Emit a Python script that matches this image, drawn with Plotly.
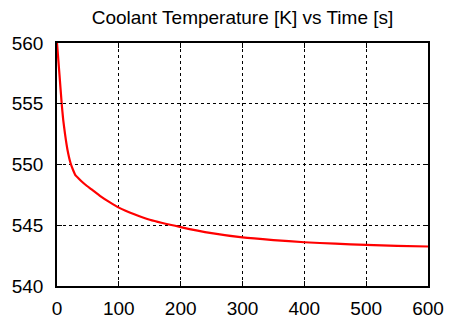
import plotly.graph_objects as go

time_s = [0, 2, 4, 7.6, 10, 13, 17, 22, 26, 30, 35, 40, 48, 56, 70, 85, 100, 125, 150, 200, 250, 300, 350, 400, 450, 500, 550, 600]
temp_k = [560.0, 558.7, 557.4, 555.0, 553.7, 552.5, 551.2, 550.1, 549.55, 549.1, 548.85, 548.6, 548.25, 547.95, 547.4, 546.9, 546.45, 545.9, 545.45, 544.85, 544.35, 544.0, 543.78, 543.6, 543.48, 543.38, 543.3, 543.25]

x_ticks = [0, 100, 200, 300, 400, 500, 600]
y_ticks = [540, 545, 550, 555, 560]
title_text = "Coolant Temperature [K] vs Time [s]"

fig = go.Figure()
fig.add_trace(go.Scatter(x=time_s, y=temp_k, mode="lines",
                         line=dict(color="#ff0000", width=2.2, shape="spline", smoothing=0.4),
                         showlegend=False, hoverinfo="skip"))

font = dict(family="Liberation Sans, Arial, sans-serif", size=19, color="#000000")
axis_common = dict(showline=True, linecolor="#000000", linewidth=1.5, mirror="ticks",
                   ticks="inside", ticklen=5, tickwidth=1.2, tickcolor="#000000",
                   showgrid=True, gridcolor="#000000", gridwidth=1, griddash="dot",
                   zeroline=False, tickfont=font)

# page body has an 8px margin, so the figure sits at (8, 8)
fig.update_layout(
    width=463, height=318,
    margin=dict(l=49, r=43, t=35, b=40, autoexpand=False),
    paper_bgcolor="#ffffff", plot_bgcolor="#ffffff",
    title=dict(text=title_text, x=(49 + 420) / 2 / 463, xanchor="center",
               y=1 - 9 / 318, yanchor="middle", font=font),
    xaxis=dict(range=[0, 600], tickvals=x_ticks, ticklabelstandoff=4, **axis_common),
    yaxis=dict(range=[540, 560], tickvals=y_ticks, ticklabelstandoff=8, **axis_common),
)

fig.write_html("out.html")
